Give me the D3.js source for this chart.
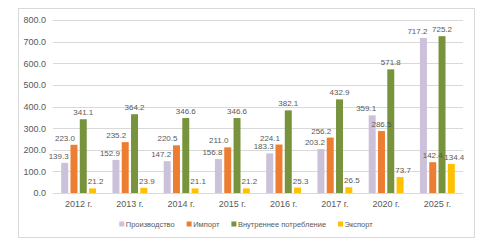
<!DOCTYPE html>
<html>
<head>
<meta charset="utf-8">
<script src="https://cdn.jsdelivr.net/npm/d3@7"></script>
<style>
  body { margin: 0; background: #fff; }
  svg { font-family: "Liberation Sans", Arial, sans-serif; }
</style>
</head>
<body>
<div id="chart"></div>
<script>
// data
const years = ['2012 г.', '2013 г.', '2014 г.', '2015 г.', '2016 г.', '2017 г.', '2020 г.', '2025 г.'];
const seriesNames = ['Производство', 'Импорт', 'Внутреннее потребление', 'Экспорт'];
const production = [139.3, 152.9, 147.2, 156.8, 183.3, 203.2, 359.1, 717.2];
const imports = [223.0, 235.2, 220.5, 211.0, 224.1, 256.2, 286.5, 142.4];
const consumption = [341.1, 364.2, 346.6, 346.6, 382.1, 432.9, 571.8, 725.2];
const exports = [21.2, 23.9, 21.1, 21.2, 25.3, 26.5, 73.7, 134.4];
const yTicks = [0, 100, 200, 300, 400, 500, 600, 700, 800];

const colors = ['#ccc1da', '#ed7d31', '#77933c', '#ffc000'];
const values = [production, imports, consumption, exports];

const width = 484, height = 240;
const svg = d3.select('#chart').append('svg')
    .attr('width', width)
    .attr('height', height);

// chart frame
svg.append('rect')
    .attr('x', 18.5).attr('y', 8.5)
    .attr('width', 456).attr('height', 229)
    .attr('fill', '#fff')
    .attr('stroke', '#d9d9d9');

const x0 = d3.scaleBand().domain(years).range([53, 463]).paddingInner(0.32).paddingOuter(0.16);
const x1 = d3.scaleBand().domain(d3.range(4)).range([0, x0.bandwidth()]).paddingInner(0.25);
const y = d3.scaleLinear().domain([0, 800]).range([193, 20]);

// gridlines
svg.append('g')
    .selectAll('line')
    .data(yTicks)
    .enter().append('line')
    .attr('x1', 53).attr('x2', 463)
    .attr('y1', d => Math.round(y(d)) + 0.5)
    .attr('y2', d => Math.round(y(d)) + 0.5)
    .attr('stroke', '#d9d9d9');

// y axis labels
const yAxis = svg.append('g')
    .attr('transform', 'translate(53,0)')
    .call(d3.axisLeft(y).tickValues(yTicks).tickFormat(d3.format('.1f')).tickSize(0).tickPadding(7));
yAxis.select('.domain').remove();
yAxis.selectAll('text').attr('fill', '#595959').style('font-size', '9px')
    .style('font-family', '"Liberation Sans", Arial, sans-serif');

// x axis labels
const xAxis = svg.append('g')
    .attr('transform', 'translate(0,193)')
    .call(d3.axisBottom(x0).tickSize(0).tickPadding(8));
xAxis.select('.domain').remove();
xAxis.selectAll('text').attr('fill', '#595959').style('font-size', '9px')
    .style('font-family', '"Liberation Sans", Arial, sans-serif');

// flat list of points, one per bar
const points = [];
years.forEach((yr, i) => {
    values.forEach((s, k) => points.push({ year: yr, i: i, k: k, v: s[i] }));
});

svg.append('g')
    .selectAll('rect')
    .data(points)
    .enter().append('rect')
    .attr('x', d => x0(d.year) + x1(d.k))
    .attr('y', d => y(d.v))
    .attr('width', x1.bandwidth())
    .attr('height', d => y(0) - y(d.v))
    .attr('fill', d => colors[d.k]);

// labels shifted a bit sideways like in the original
function labelShift(d) {
    if (d.k === 0) return -6;
    if (d.k === 1) return production[d.i] > imports[d.i] ? 0 : -9;
    if (d.k === 3) return 3;
    return 0;
}

svg.append('g')
    .selectAll('text')
    .data(points)
    .enter().append('text')
    .attr('x', d => x0(d.year) + x1(d.k) + x1.bandwidth() / 2 + labelShift(d))
    .attr('y', d => y(d.v) - 4)
    .attr('text-anchor', 'middle')
    .attr('fill', '#595959')
    .style('font-size', '8px')
    .text(d => d.v.toFixed(1));

// legend
const legend = svg.append('g').attr('transform', 'translate(0,224)');
const items = legend.selectAll('g')
    .data(seriesNames)
    .enter().append('g');
items.append('rect')
    .attr('y', -2.5)
    .attr('width', 5).attr('height', 5)
    .attr('fill', (d, i) => colors[i]);
items.append('text')
    .attr('x', 6.5)
    .attr('dy', '0.35em')
    .attr('fill', '#595959')
    .style('font-size', '7.5px')
    .text(d => d);

let offset = 0;
const positions = [];
items.each(function () {
    positions.push(offset);
    offset += 6.5 + d3.select(this).select('text').node().getComputedTextLength() + 12;
});
const total = offset - 12;
const start = 246 - total / 2;
items.attr('transform', (d, i) => `translate(${start + positions[i]},0)`);
</script>
</body>
</html>
